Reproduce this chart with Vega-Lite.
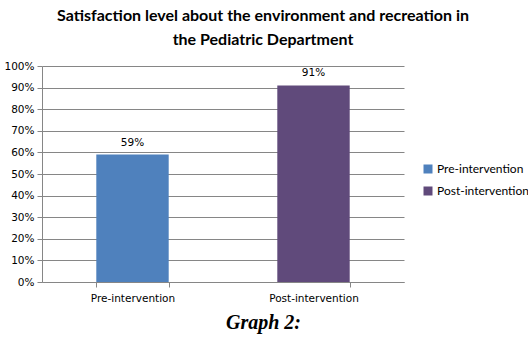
{
  "$schema": "https://vega.github.io/schema/vega-lite/v6.json",
  "autosize": "none",
  "width": 362,
  "height": 216,
  "padding": {"left": 42, "top": 66, "right": 124, "bottom": 59},
  "background": "white",
  "title": {
    "text": ["Satisfaction level about the environment and recreation in", "the Pediatric Department"],
    "font": "Lato",
    "fontSize": 16,
    "fontWeight": "bold",
    "color": "#000000",
    "anchor": "middle",
    "frame": "group",
    "dx": 40,
    "offset": 13,
    "lineHeight": 24
  },
  "data": {
    "values": [
      {"group": "Pre-intervention", "value": 0.59},
      {"group": "Post-intervention", "value": 0.91}
    ]
  },
  "config": {
    "view": {"stroke": null},
    "axis": {"labelFont": "DejaVu Sans", "labelColor": "#000000", "domainColor": "#868686", "tickColor": "#868686", "gridColor": "#868686"}
  },
  "encoding": {
    "x": {
      "field": "group",
      "type": "nominal",
      "sort": ["Pre-intervention", "Post-intervention"],
      "scale": {"paddingInner": 0.6, "paddingOuter": 0.3},
      "axis": {
        "title": "Graph 2:",
        "titleFont": "Liberation Serif",
        "titleFontStyle": "italic",
        "titleFontWeight": "bold",
        "titleFontSize": 20,
        "titleColor": "#000000",
        "titleX": 221,
        "titleY": 46,
        "titleBaseline": "alphabetic",
        "labelAngle": 0,
        "labelFontSize": 10.5,
        "labelPadding": 6,
        "tickBand": "extent",
        "tickSize": 5,
        "grid": false
      }
    },
    "y": {
      "field": "value",
      "type": "quantitative",
      "scale": {"domain": [0, 1]},
      "axis": {
        "title": null,
        "format": ".0%",
        "values": [0, 0.1, 0.2, 0.3, 0.4, 0.5, 0.6, 0.7, 0.8, 0.9, 1],
        "labelOverlap": false,
        "labelFontSize": 10.5,
        "tickSize": 5,
        "labelPadding": 3,
        "grid": true
      }
    }
  },
  "layer": [
    {
      "mark": {"type": "bar"},
      "encoding": {
        "color": {
          "field": "group",
          "type": "nominal",
          "sort": ["Pre-intervention", "Post-intervention"],
          "scale": {"domain": ["Pre-intervention", "Post-intervention"], "range": ["#4F81BD", "#604A7B"]},
          "legend": {
            "title": null,
            "orient": "none",
            "legendX": 380,
            "legendY": 97,
            "symbolType": "square",
            "symbolSize": 81,
            "symbolStrokeWidth": 0,
            "labelFont": "Lato",
            "labelFontSize": 12,
            "labelColor": "#000000",
            "rowPadding": 10,
            "labelOffset": 3
          }
        }
      }
    },
    {
      "mark": {"type": "text", "dy": -12, "font": "DejaVu Sans", "fontSize": 10.5, "color": "#000000"},
      "encoding": {
        "text": {"field": "value", "type": "quantitative", "format": ".0%"}
      }
    }
  ]
}
